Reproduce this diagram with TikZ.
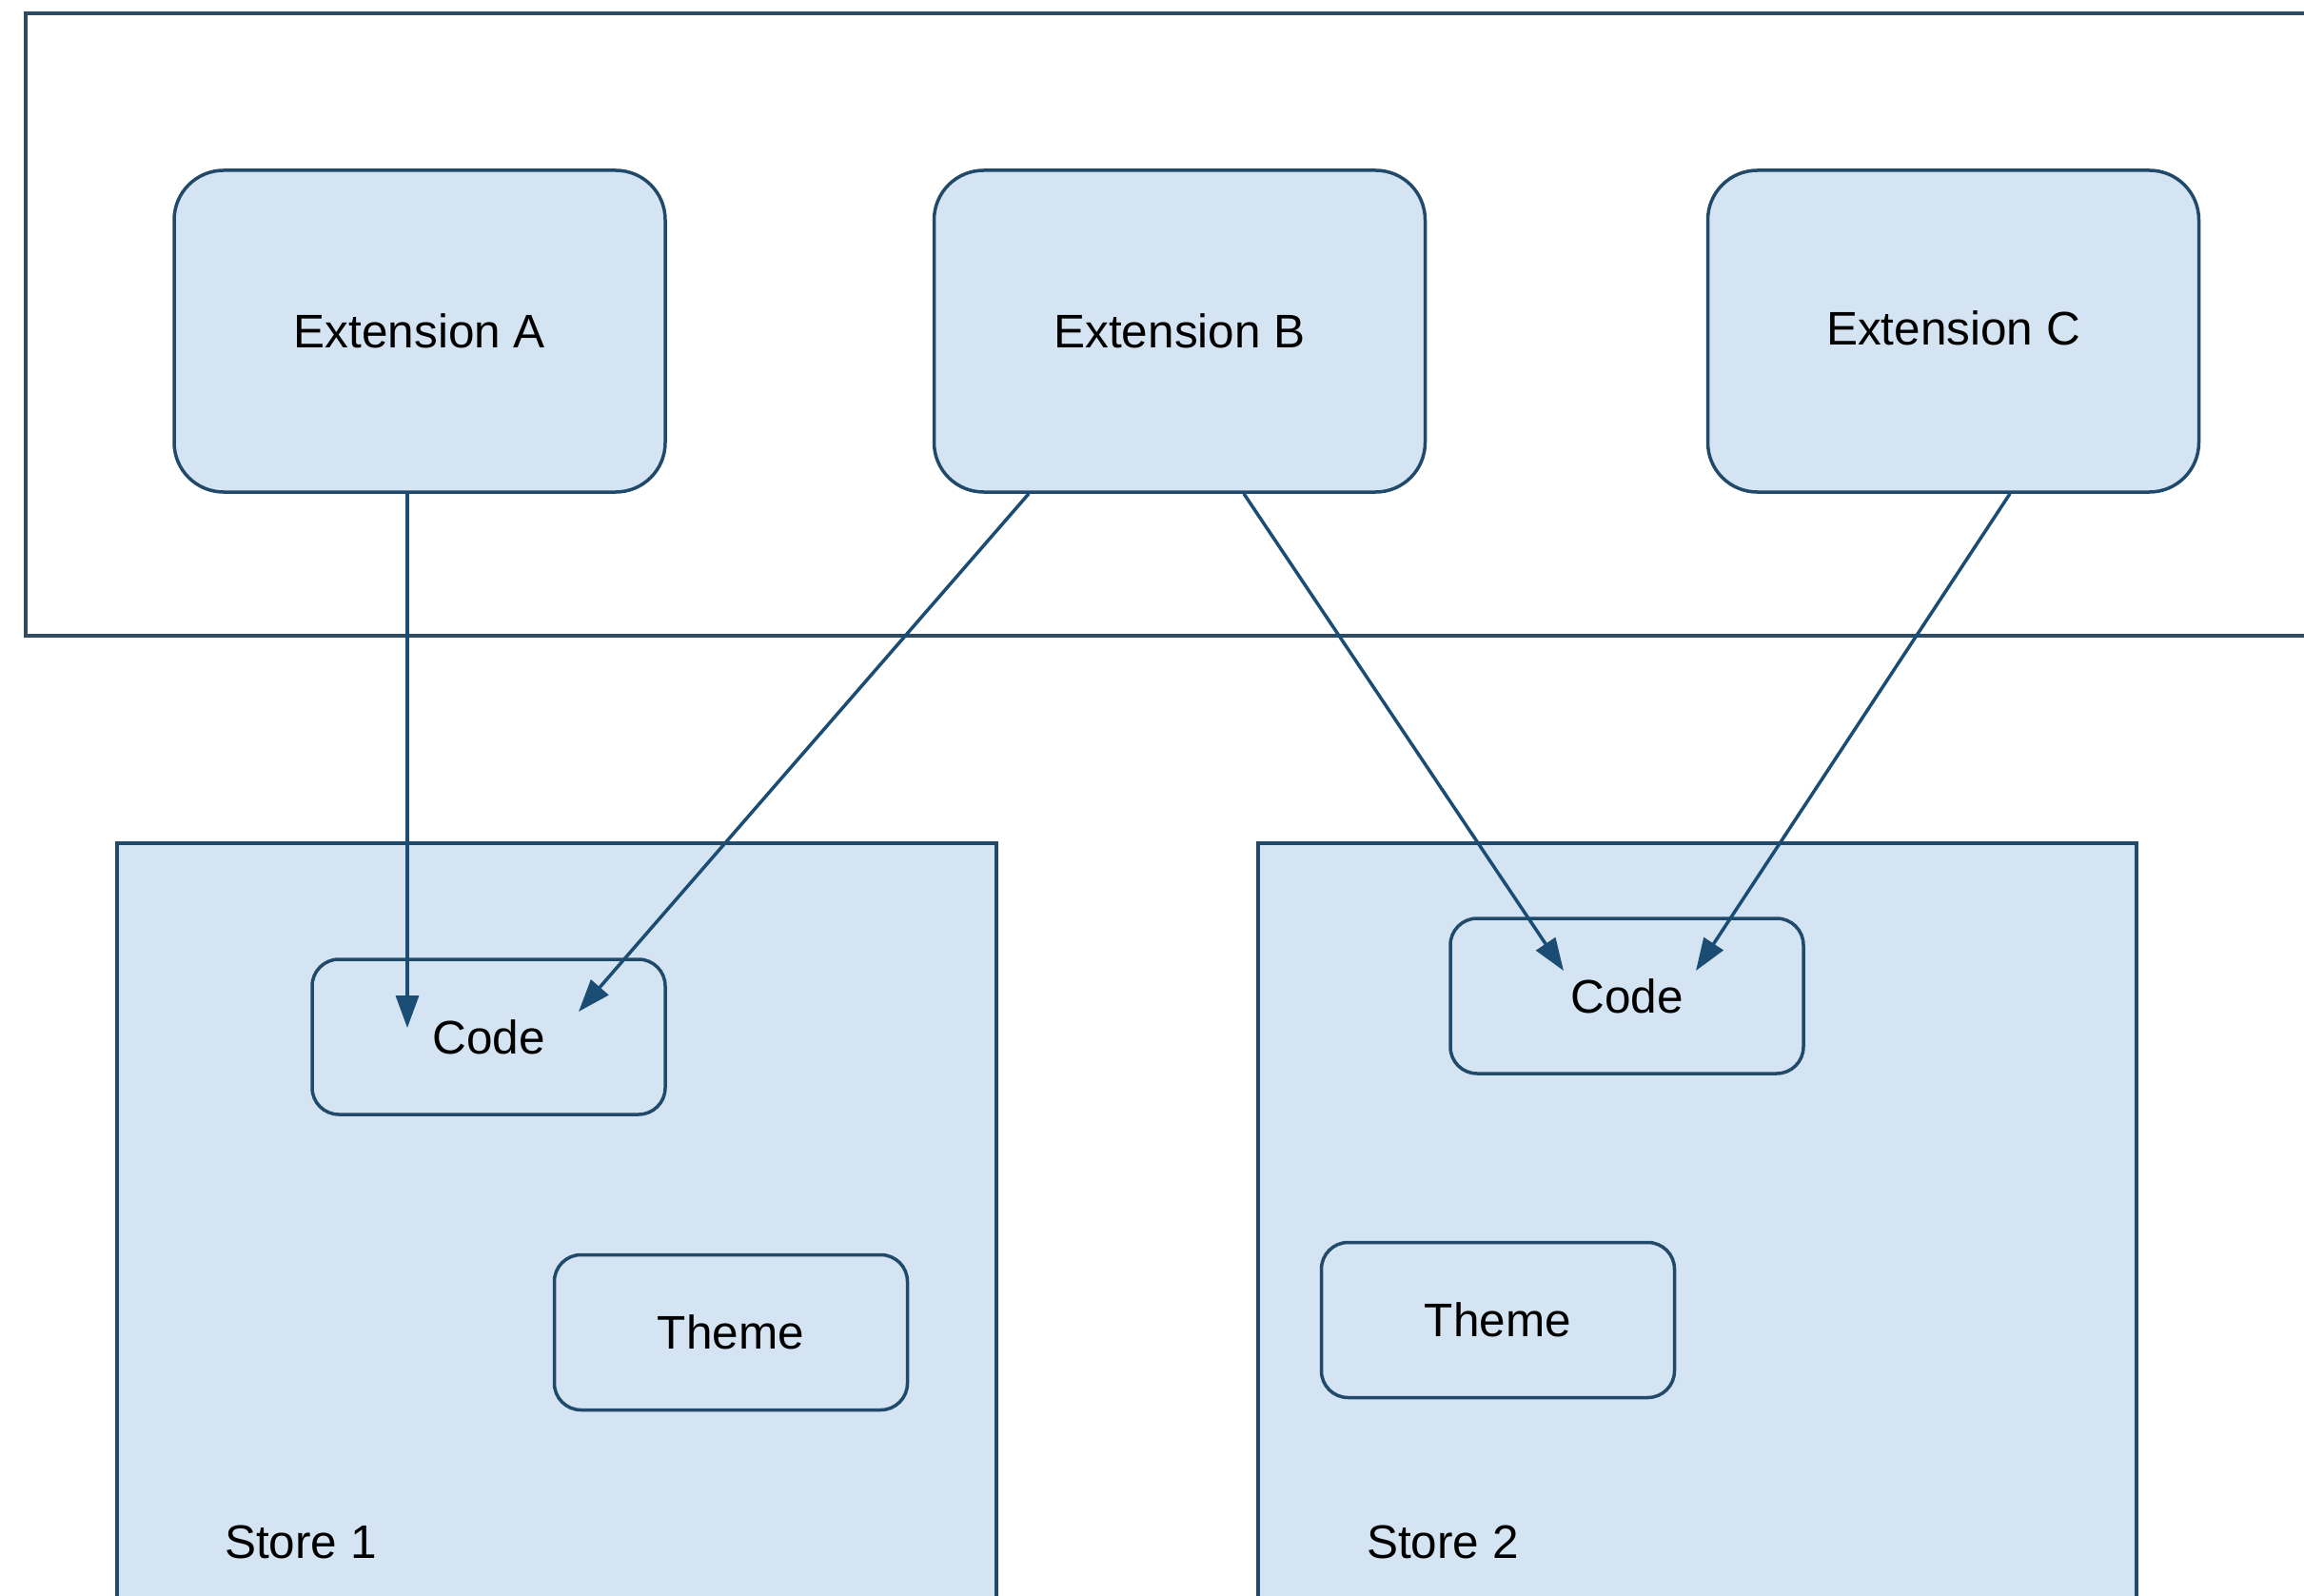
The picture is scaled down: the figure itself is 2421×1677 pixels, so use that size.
\documentclass[tikz,border=0pt]{standalone}
\usepackage{fontspec}
\setmainfont{Liberation Sans}
\usetikzlibrary{arrows.meta,calc}
\definecolor{boxfill}{HTML}{D4E4F2}
\definecolor{boxline}{HTML}{21496A}
\definecolor{frameline}{HTML}{2E4B62}
\definecolor{arrowcol}{HTML}{1B4D74}
\begin{document}
\begin{tikzpicture}[x=1pt,y=-1pt,
  extbox/.style={draw=boxline,fill=boxfill,line width=3.5pt,rounded corners=52pt,
    minimum width=516pt,minimum height=338pt,inner sep=0pt,font=\fontsize{49.5}{58}\selectfont},
  partbox/.style={draw=boxline,fill=boxfill,line width=3.5pt,rounded corners=28pt,
    minimum width=371pt,minimum height=163pt,inner sep=0pt,font=\fontsize{49.5}{58}\selectfont},
  storelabel/.style={anchor=west,inner sep=0pt,font=\fontsize{49.5}{58}\selectfont},
  link/.style={draw=arrowcol,line width=3.5pt,-{Triangle[length=34pt,width=24pt]}}]
\useasboundingbox (0,0) rectangle (2421,1677);
\fill[white] (0,0) rectangle (2421,1677);
% outer frame (open to the right)
\draw[frameline,line width=4pt] (2440,14) -- (27,14) -- (27,668) -- (2440,668);
% stores
\draw[boxline,fill=boxfill,line width=3.5pt] (123,1700) -- (123,886) -- (1047,886) -- (1047,1700);
\draw[boxline,fill=boxfill,line width=3.5pt] (1322,1700) -- (1322,886) -- (2245,886) -- (2245,1700);
\node[storelabel] (s1) at (236,1620) {Store 1};
\node[storelabel] (s2) at (1436,1620) {Store 2};
% extensions
\node[extbox] (extA) at (441,348) {Extension A};
\node[extbox] (extB) at (1239.5,348) {Extension B};
\node[extbox] (extC) at (2052.5,348) {\raisebox{7pt}{Extension C}};
% parts
\node[partbox] (code1) at (513.5,1089.5) {\raisebox{-3pt}{Code}};
\node[partbox] (theme1) at (768,1400) {Theme};
\node[partbox] (code2) at (1709.5,1046.5) {Code};
\node[partbox] (theme2) at (1574,1387) {Theme};
% arrow tips
\coordinate (tipA) at (428,1080);
\coordinate (tipB1) at (608,1063);
\coordinate (tipB2) at (1643,1020);
\coordinate (tipC) at (1782,1020);
\draw[link] ([xshift=-13pt]extA.south) -- (tipA);
\draw[link] ([xshift=-158.5pt]extB.south) -- (tipB1);
\draw[link] ([xshift=67.5pt]extB.south) -- (tipB2);
\draw[link] ([xshift=59.5pt]extC.south) -- (tipC);
\end{tikzpicture}
\end{document}
